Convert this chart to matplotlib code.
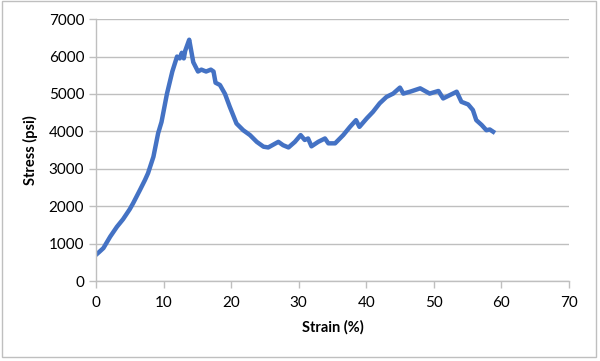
import matplotlib

matplotlib.use("Agg")

import matplotlib.pyplot as plt
from matplotlib.patches import Rectangle

# strain (%) vs stress (psi)
strain = [0.0, 0.5, 1.1, 2.1, 3.1, 4.0, 5.0, 5.5, 6.5, 7.25, 7.7, 8.5, 9.2, 9.7,
          10.5, 11.3, 12.0, 12.4, 12.7, 13.0, 13.2, 13.5, 13.8, 14.0, 14.4, 15.1,
          15.6, 16.3, 17.0, 17.4, 17.7, 18.35, 19.1, 19.8, 20.8, 21.8, 22.8, 23.8,
          24.8, 25.5, 27.0, 27.7, 28.5, 29.45, 30.3, 30.9, 31.4, 31.9, 32.9, 33.9,
          34.4, 35.4, 36.6, 37.6, 38.5, 39.0, 40.1, 41.0, 42.0, 43.0, 44.0, 45.0,
          45.5, 46.5, 48.0, 48.9, 49.4, 50.7, 51.4, 52.4, 53.4, 54.1, 55.1, 55.8,
          56.3, 57.1, 57.8, 58.3, 58.8]
stress = [700, 780, 880, 1185, 1450, 1650, 1920, 2080, 2430, 2700, 2880, 3320,
          3950, 4250, 5000, 5600, 6000, 5950, 6100, 5950, 6150, 6300, 6450, 6250,
          5850, 5600, 5650, 5600, 5650, 5600, 5300, 5240, 5000, 4660, 4210, 4030,
          3900, 3720, 3590, 3570, 3720, 3630, 3570, 3720, 3900, 3770, 3810, 3600,
          3720, 3810, 3680, 3680, 3900, 4120, 4300, 4120, 4350, 4520, 4750, 4920,
          5010, 5170, 5010, 5060, 5150, 5060, 5010, 5080, 4880, 4970, 5060, 4790,
          4720, 4570, 4300, 4170, 4030, 4050, 3990]

x_ticks = [0, 10, 20, 30, 40, 50, 60, 70]
y_ticks = [0, 1000, 2000, 3000, 4000, 5000, 6000, 7000]

plt.rcParams["font.family"] = ["Lato", "DejaVu Sans"]

fig = plt.figure(figsize=(6.0, 3.61), dpi=100)
fig.patches.append(Rectangle((0.004, 0.011), 0.99, 0.985, transform=fig.transFigure,
                             fill=False, edgecolor="#BFBFBF", linewidth=1.0))

ax = fig.add_axes([0.16, 0.2216, 0.788, 0.7254])
ax.plot(strain, stress, color="#4472C4", linewidth=3.2, solid_joinstyle="round")

ax.set_xlim(0, 70)
ax.set_ylim(0, 7000)
ax.set_xticks(x_ticks)
ax.set_yticks(y_ticks)
ax.yaxis.grid(True, color="#BFBFBF", linewidth=1.0)
ax.set_axisbelow(True)

for side in ("top", "right"):
    ax.spines[side].set_visible(False)
for side in ("left", "bottom"):
    ax.spines[side].set_color("#BFBFBF")
    ax.spines[side].set_linewidth(1.0)
ax.tick_params(axis="both", colors="#BFBFBF", length=5, width=1.0,
               labelcolor="black", labelsize=11)
ax.tick_params(axis="x", pad=6)

ax.set_xlabel("Strain (%)", fontsize=10.5, fontweight="bold", labelpad=7)
ax.set_ylabel("Stress (psi)", fontsize=10.5, fontweight="bold", labelpad=8)

fig.savefig("out.png", dpi=100)
